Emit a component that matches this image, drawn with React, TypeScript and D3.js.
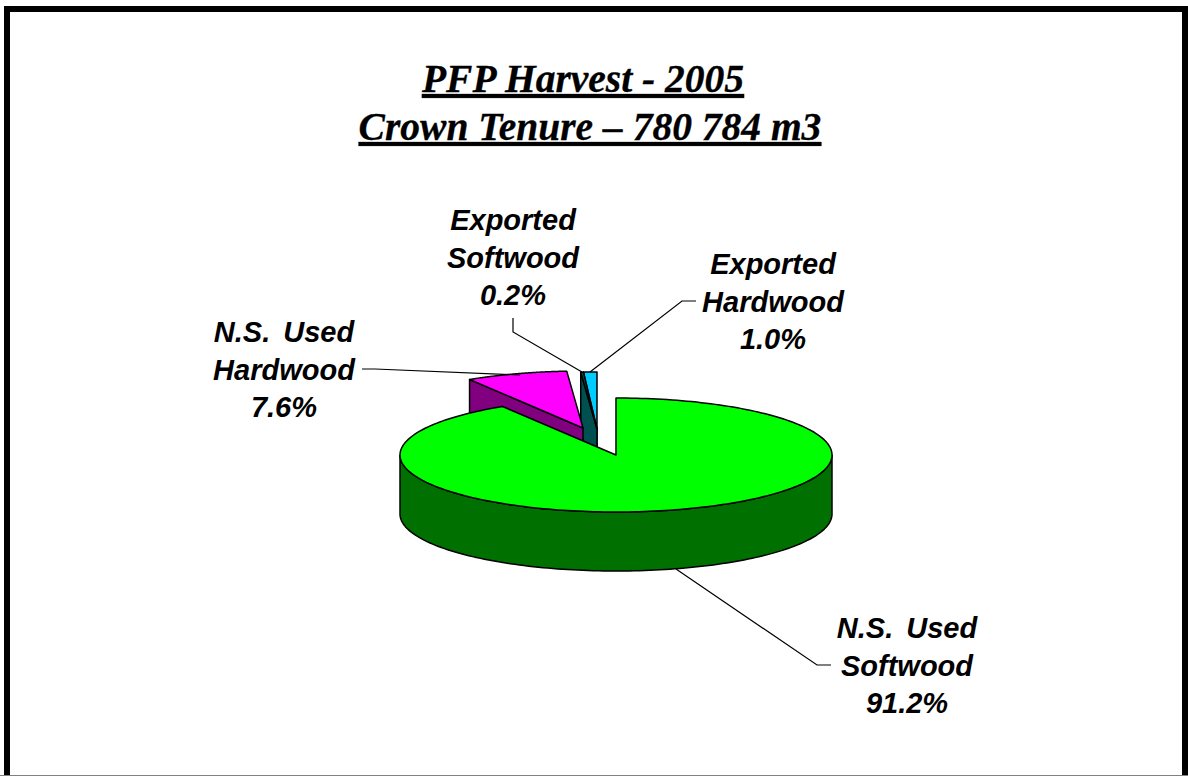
import React from "react";
import * as d3 from "d3";

const categories = ["N.S. Used Softwood", "N.S. Used Hardwood", "Exported Softwood", "Exported Hardwood"];
const values = [91.2, 7.6, 0.2, 1.0];
const labelLines = [
  ["N.S. Used", "Softwood", "91.2%"],
  ["N.S. Used", "Hardwood", "7.6%"],
  ["Exported", "Softwood", "0.2%"],
  ["Exported", "Hardwood", "1.0%"],
];
const topColors = ["#00ff00", "#ff00ff", "#005050", "#00ccff"];
const wallColors = ["#007000", "#800080", "#005050", "#006666"];
const explode: [number, number][] = [[0, 0], [-33, -27], [-19, -26], [-19, -26]];
const labelX = [907, 284, 513, 773];
const labelY = [638, 342, 230, 274];
const leaders: [number, number][][] = [
  [[831, 665], [817, 665], [676, 569]],
  [[362, 369], [375, 369], [520, 375]],
  [[513, 318], [513, 332], [582, 372]],
  [[696, 301], [682, 301], [590, 372]],
];

const cx = 616, cy = 455, rx = 216, ry = 57, depth = 59;
const xS = d3.scaleLinear().domain([-1, 1]).range([cx - rx, cx + rx]);
const yS = d3.scaleLinear().domain([-1, 1]).range([cy + ry, cy - ry]);

const pie = d3.pie<number>().sort(null).startAngle(0).endAngle(2 * Math.PI);
const arcs = pie(values);

const pt = (a: number, dx: number, dy: number): [number, number] => [xS(Math.sin(a)) + dx, yS(Math.cos(a)) + dy];
const arcPts = (a0: number, a1: number, dx: number, dy: number) =>
  d3.range(0, 241).map((i) => pt(a0 + ((a1 - a0) * i) / 240, dx, dy));
const line = d3.line();

const strokeProps = { stroke: "#000", strokeWidth: 1.5, strokeLinejoin: "round" as const };

function Slice({ i }: { i: number }) {
  const { startAngle: a0, endAngle: a1 } = arcs[i];
  const [dx, dy] = explode[i];
  const apex: [number, number] = [cx + dx, cy + dy];
  const down = (p: [number, number]): [number, number] => [p[0], p[1] + depth];
  const outer = arcPts(a0, a1, dx, dy);
  const top = line([apex, ...outer]) + "Z";
  const walls: string[] = [];
  const front = outer.filter((p) => p[1] >= cy + dy - 0.01);
  if (front.length) walls.push(line([...front, ...front.slice().reverse().map(down)]) + "Z");
  if (i !== 0) walls.push(line([outer[0], apex, down(apex), down(outer[0])]) + "Z");
  return (
    <g>
      {walls.map((d, k) => (
        <path key={k} d={d} fill={wallColors[i]} {...strokeProps} />
      ))}
      <path d={top} fill={topColors[i]} {...strokeProps} />
    </g>
  );
}

const drawOrder = [3, 2, 1, 0];
const titleStyle = { textDecorationLine: "underline", textDecorationThickness: "4px", textUnderlineOffset: "5px" };

export default function App() {
  return (
    <svg width={1188} height={776} style={{ position: "fixed", left: 0, top: 0, background: "#fff" }}>
      <rect x={7} y={9} width={1178} height={780} fill="#fff" stroke="#000" strokeWidth={6} />
      <rect x={0} y={775} width={1188} height={1} fill="#808080" />
      <g fontFamily="'Liberation Serif'" fontWeight="bold" fontStyle="italic" fontSize={39.5} textAnchor="middle" stroke="#000" strokeWidth={0.3}>
        <text x={583} y={92} style={titleStyle}>PFP Harvest - 2005</text>
        <text x={590} y={140} style={titleStyle}>Crown Tenure – 780 784 m3</text>
      </g>
      {drawOrder.map((i) => (
        <Slice key={categories[i]} i={i} />
      ))}
      {leaders.map((l, i) => (
        <path key={i} d={line(l) ?? ""} fill="none" stroke="#000" strokeWidth={1.2} />
      ))}
      <g fontFamily="'Liberation Sans'" fontWeight="bold" fontStyle="italic" fontSize={29} textAnchor="middle" wordSpacing={5}>
        {labelLines.map((lines, i) => (
          <text key={i} y={labelY[i]}>
            {lines.map((t, k) => (
              <tspan key={k} x={labelX[i]} y={labelY[i] + k * 37.5}>{t}</tspan>
            ))}
          </text>
        ))}
      </g>
    </svg>
  );
}
